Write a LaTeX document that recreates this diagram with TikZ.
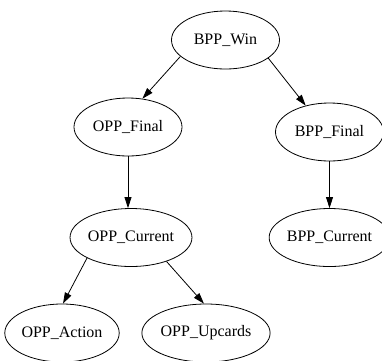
\documentclass[tikz,border=0pt]{standalone}
\usepackage{fontspec}
\setmainfont{Liberation Serif}
\usetikzlibrary{arrows.meta,shapes.geometric}
\begin{document}
\begin{tikzpicture}[x=1pt,y=-1pt,
  var/.style={draw, ellipse, line width=0.8pt, minimum width=108pt, minimum height=58pt,
              inner sep=0pt, font=\fontsize{16}{18}\selectfont},
  edge/.style={line width=0.8pt, -{Triangle[length=11pt,width=7pt]}}]
  \useasboundingbox (0,0) rectangle (382,360);

  % variables
  \node[var] (win) at (225.5,40)  {BPP\_Win};
  \node[var] (of)  at (128,127)   {OPP\_Final};
  \node[var] (bf)  at (329.5,132) {BPP\_Final};
  \node[var] (oc)  at (131,237.5) {OPP\_Current};
  \node[var] (bc)  at (329.5,237.5) {BPP\_Current};
  \node[var] (oa)  at (62,333)    {OPP\_Action};
  \node[var] (ou)  at (206,333)   {OPP\_Upcards};

  % dependencies
  \draw[edge] (win.200) -- (of.63);
  \draw[edge] (win.337) -- (bf.132);
  \draw[edge] (of.south) -- (of.south |- oc.north);
  \draw[edge] (bf) -- (bc);
  \draw[edge] (oc.205) -- (oa.88);
  \draw[edge] (oc.326) -- (ou.94);
\end{tikzpicture}
\end{document}
